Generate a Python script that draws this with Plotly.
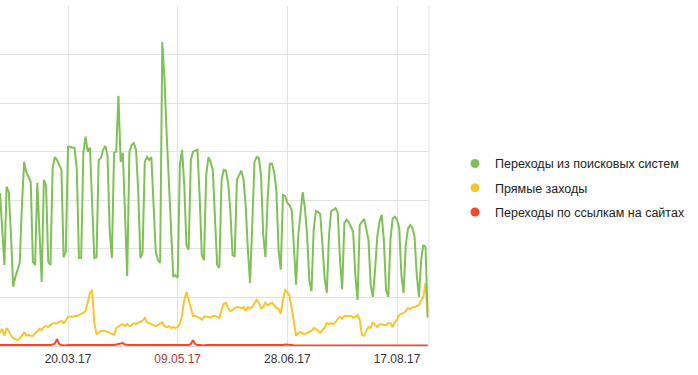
import pandas as pd
import plotly.graph_objects as go

# Daily dates (17.02.2017 – 31.08.2017)
dates = pd.date_range("2017-02-17", "2017-08-31", freq="D")

search_visits = [
    315, 239, 167, 328, 317, 229, 122, 142, 157, 171, 290, 379, 358, 348, 338, 173, 167, 336, 249, 132,
    342, 330, 173, 167, 367, 389, 383, 373, 363, 183, 194, 410, 410, 408, 408, 363, 181, 181, 398, 431,
    400, 408, 311, 181, 183, 383, 387, 404, 412, 393, 239, 181, 398, 400, 515, 379, 398, 260, 144, 400,
    414, 418, 404, 321, 181, 192, 379, 389, 383, 389, 301, 194, 177, 171, 626, 548, 435, 328, 235, 142,
    146, 140, 373, 404, 332, 208, 198, 383, 400, 402, 404, 311, 187, 177, 352, 389, 379, 363, 270, 167,
    161, 342, 363, 361, 336, 280, 187, 185, 342, 350, 361, 344, 290, 198, 130, 249, 379, 389, 387, 352,
    229, 183, 301, 375, 375, 358, 321, 198, 157, 311, 309, 295, 290, 280, 208, 126, 229, 276, 317, 284,
    229, 136, 113, 239, 278, 276, 272, 208, 140, 109, 229, 278, 280, 284, 274, 177, 117, 253, 260, 255,
    245, 235, 146, 95, 249, 255, 262, 241, 218, 126, 101, 157, 225, 255, 270, 218, 115, 101, 218, 262,
    266, 260, 243, 146, 109, 208, 241, 249, 243, 225, 146, 101, 177, 208, 204, 58,
]

direct_visits = [
    27, 35, 21, 37, 31, 21, 16, 14, 12, 16, 21, 29, 21, 23, 21, 21, 25, 29, 35, 33,
    39, 41, 39, 43, 47, 47, 47, 49, 52, 47, 52, 60, 60, 60, 62, 62, 64, 66, 68, 72,
    91, 109, 115, 47, 25, 27, 31, 31, 31, 29, 27, 25, 23, 37, 41, 43, 45, 41, 45, 41,
    43, 47, 45, 47, 49, 52, 58, 49, 47, 45, 43, 41, 43, 47, 49, 41, 39, 41, 37, 39,
    37, 39, 45, 64, 95, 111, 91, 78, 62, 62, 60, 58, 54, 60, 60, 60, 58, 62, 62, 60,
    58, 74, 87, 89, 78, 72, 74, 78, 80, 80, 78, 80, 72, 80, 78, 80, 87, 95, 89, 78,
    80, 89, 84, 87, 89, 84, 78, 76, 66, 95, 115, 111, 103, 78, 49, 21, 27, 29, 25, 25,
    27, 29, 31, 37, 35, 31, 27, 33, 37, 47, 45, 47, 45, 49, 56, 60, 56, 62, 62, 62,
    62, 58, 60, 64, 54, 23, 21, 31, 39, 37, 49, 43, 39, 45, 45, 43, 43, 47, 47, 39,
    49, 54, 64, 66, 68, 72, 78, 76, 80, 80, 82, 84, 93, 101, 130, 62,
]

link_visits = [
    2, 2, 1, 2, 2, 2, 1, 2, 2, 1, 2, 2, 2, 2, 1, 1, 2, 2, 2, 1,
    2, 2, 1, 2, 3, 5, 14, 4, 2, 1, 1, 2, 2, 2, 2, 2, 1, 1, 2, 2,
    2, 2, 2, 1, 1, 2, 2, 2, 2, 2, 1, 1, 2, 3, 4, 5, 6, 3, 2, 2,
    2, 2, 2, 2, 1, 1, 2, 2, 2, 2, 2, 1, 1, 2, 2, 2, 2, 2, 1, 1,
    1, 2, 2, 2, 2, 1, 2, 4, 12, 4, 2, 2, 1, 1, 2, 2, 2, 2, 2, 1,
    1, 2, 2, 2, 2, 2, 1, 1, 2, 2, 2, 2, 2, 1, 1, 1, 2, 2, 2, 2,
    1, 1, 2, 2, 2, 2, 2, 1, 1, 2, 3, 3, 2, 2, 1, 1, 2, 2, 2, 2,
    2, 1, 1, 2, 2, 2, 2, 2, 1, 1, 2, 2, 2, 2, 2, 1, 1, 2, 2, 2,
    2, 2, 1, 1, 2, 2, 2, 2, 2, 1, 1, 2, 2, 2, 2, 2, 1, 1, 2, 2,
    2, 2, 2, 1, 1, 2, 2, 2, 2, 2, 1, 1, 2, 2, 2, 1,
]

series_names = [
    "Переходы из поисковых систем",
    "Прямые заходы",
    "Переходы по ссылкам на сайтах",
]
series_colors = ["#80c157", "#f7c62f", "#ef4a2a"]

tick_dates = ["2017-03-20", "2017-05-09", "2017-06-28", "2017-08-17"]
tick_labels = ["20.03.17", "<span style='color:#b03a3a'>09.05.17</span>", "28.06.17", "17.08.17"]

fig = go.Figure()
all_series = [search_visits, direct_visits, link_visits]
# draw lines (red first, green last on top)
for vals, name, col in reversed(list(zip(all_series, series_names, series_colors))):
    fig.add_trace(go.Scatter(
        x=dates, y=vals, mode="lines", name=name,
        line=dict(color=col, width=2), showlegend=False, hoverinfo="skip",
    ))
# legend entries with round markers
for i, (name, col) in enumerate(zip(series_names, series_colors)):
    fig.add_trace(go.Scatter(
        x=[None], y=[None], mode="markers", name=name,
        marker=dict(color=col, size=9, symbol="circle"),
        legendgroup=f"g{i}", showlegend=True,
    ))

fig.add_shape(type="line", xref="paper", yref="paper", x0=1, x1=1, y0=0, y1=1,
              line=dict(color="#e3e3e3", width=1))

fig.update_layout(
    width=698, height=375,
    margin=dict(l=0, r=269, t=6, b=29, autoexpand=False),
    paper_bgcolor="white", plot_bgcolor="white",
    font=dict(family="Liberation Sans, Arial, sans-serif", size=12, color="#333333"),
    xaxis=dict(
        type="date",
        range=["2017-02-17 00:00", "2017-08-31 14:00"],
        tickvals=tick_dates, ticktext=tick_labels,
        showgrid=True, gridcolor="#e3e3e3", gridwidth=1,
        zeroline=False, showline=False, ticks="",
        ticklabelstandoff=4,
        tickfont=dict(size=12, color="#333333"),
    ),
    yaxis=dict(
        range=[0, 700], dtick=100, tick0=0,
        showgrid=True, gridcolor="#e3e3e3", gridwidth=1,
        zeroline=True, zerolinecolor="#d8d8d8", zerolinewidth=1,
        showticklabels=False, ticks="",
    ),
    legend=dict(
        x=1.0606, xanchor="left", y=0.465, yanchor="middle",
        font=dict(size=12.5, color="#222222"),
        tracegroupgap=5, bgcolor="rgba(0,0,0,0)",
    ),
    showlegend=True,
)

fig.write_html(
    "out.html",
    config={"displayModeBar": False},
    post_script="document.body.style.margin='0px';",
)
